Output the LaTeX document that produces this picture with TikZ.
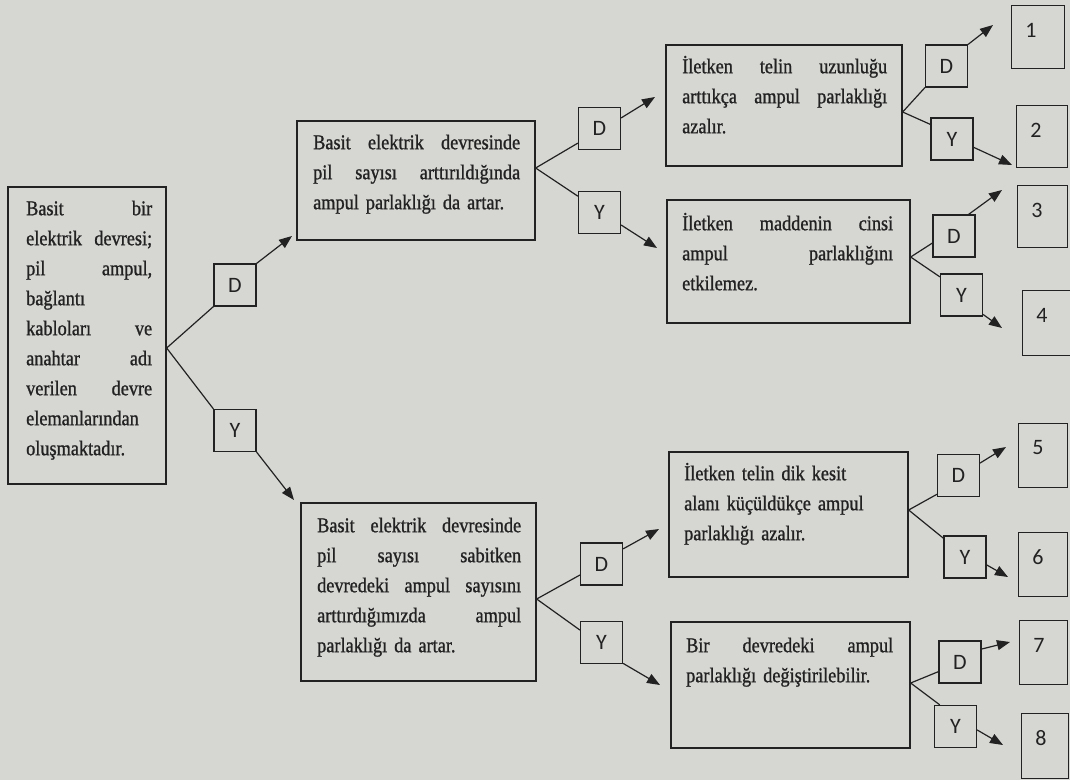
\documentclass[tikz,border=0pt]{standalone}
\usepackage{fontspec}
\setmainfont{Liberation Serif}[FakeStretch=0.87, FakeBold=1.0]
\newfontfamily\labelfont{Carlito}
\usetikzlibrary{arrows.meta}

\definecolor{paper}{RGB}{214,214,211}
\definecolor{ink}{RGB}{34,34,34}

% one justified line of a statement box, as wide as the text block
% (stretchable spaces restored inside the line)
\newcommand{\jl}[1]{\leavevmode\hbox to \boxw{\spaceskip=0pt\xspaceskip=0pt #1}}

\tikzset{
  box/.style={draw=ink, line width=1.3pt, inner sep=0pt},
  dybox/.style={draw=ink, line width=1.2pt, minimum width=42pt, minimum height=42pt,
    inner sep=0pt, text=ink, font=\labelfont\fontsize{22}{24}\selectfont},
  numbox/.style={draw=ink, line width=1.2pt, inner sep=0pt, minimum width=50pt,
    minimum height=63pt, anchor=north west},
  numtxt/.style={inner sep=0pt, text=ink, font=\labelfont\fontsize{22}{24}\selectfont},
  body/.style={anchor=north west, inner sep=0pt, align=left, text=ink, text width=#1,
    font=\fontsize{21}{30}\selectfont,
    execute at begin node={\parindent=0pt\def\boxw{#1}}},
  link/.style={draw=ink, line width=1.2pt},
  arr/.style={link, -{Triangle[length=13pt,width=10pt]}},
}

\begin{document}
\begin{tikzpicture}[x=1pt, y=-1pt]
\clip (0,0) rectangle (1070,780);
\fill[paper] (0,0) rectangle (1070,780);

% ---------- statement boxes ----------
\node[box, minimum width=158pt, minimum height=297pt] (L) at (87,335.5) {};
\node[box, minimum width=238pt, minimum height=119pt] (M1) at (416,180.5) {};
\node[box, minimum width=235pt, minimum height=178pt] (M2) at (418.5,592) {};
\node[box, minimum width=236pt, minimum height=121pt] (R1) at (784,105.5) {};
\node[box, minimum width=243pt, minimum height=123pt] (R2) at (788.5,261.5) {};
\node[box, minimum width=239pt, minimum height=125pt] (R3) at (788.5,514.5) {};
\node[box, minimum width=239pt, minimum height=126pt] (R4) at (790.5,685) {};

% ---------- statement texts ----------
\node[body=126pt] (Ltext) at (26,194) {%
\jl{\strut Basit bir}\\
\jl{elektrik devresi;}\\
\jl{pil ampul,}\\
bağlantı\\
\jl{kabloları ve}\\
\jl{anahtar adı}\\
\jl{verilen devre}\\
elemanlarından\\
oluşmaktadır.};

\node[body=207pt] (M1text) at (313,128) {%
\jl{\strut Basit elektrik devresinde}\\
\jl{pil sayısı arttırıldığında}\\
ampul parlaklığı da artar.};

\node[body=204pt] (M2text) at (317,511) {%
\jl{\strut Basit elektrik devresinde}\\
\jl{pil sayısı sabitken}\\
\jl{devredeki ampul sayısını}\\
\jl{arttırdığımızda ampul}\\
parlaklığı da artar.};

\node[body=205pt] (R1text) at (682,52) {%
\jl{\strut İletken telin uzunluğu}\\
\jl{arttıkça ampul parlaklığı}\\
azalır.};

\node[body=211pt] (R2text) at (682,209) {%
\jl{\strut İletken maddenin cinsi}\\
\jl{ampul parlaklığını}\\
etkilemez.};

\node[body=205pt] (R3text) at (684,459) {%
\strut İletken telin dik kesit\\
alanı küçüldükçe ampul\\
parlaklığı azalır.};

\node[body=207pt] (R4text) at (686,631) {%
\jl{\strut Bir devredeki ampul}\\
parlaklığı değiştirilebilir.};

% ---------- D / Y answer boxes ----------
\node[dybox] (dL) at (235,285) {D};
\node[dybox] (yL) at (235,430.5) {Y};
\node[dybox] (dM1) at (599.5,128.5) {D};
\node[dybox] (yM1) at (599.5,212.5) {Y};
\node[dybox] (dM2) at (601.5,564) {D};
\node[dybox] (yM2) at (601.5,642.5) {Y};
\node[dybox] (dR1) at (946.5,66) {D};
\node[dybox] (yR1) at (952,139) {Y};
\node[dybox] (dR2) at (954,236) {D};
\node[dybox] (yR2) at (961.5,295) {Y};
\node[dybox] (dR3) at (958.5,475.5) {D};
\node[dybox] (yR3) at (965,557) {Y};
\node[dybox] (dR4) at (960,662) {D};
\node[dybox] (yR4) at (955.5,726.5) {Y};

% ---------- numbered exit boxes ----------
\node[numbox, minimum width=53pt] (n1) at (1011,5) {};
\node[numbox, minimum width=51pt, minimum height=62pt] (n2) at (1016,105) {};
\node[numbox, minimum width=50pt, minimum height=62pt] (n3) at (1017,185) {};
\node[numbox, minimum width=48pt, minimum height=65pt] (n4) at (1022,290) {};
\node[numbox, minimum width=49pt, minimum height=64pt] (n5) at (1018,423) {};
\node[numbox, minimum width=49pt, minimum height=64pt] (n6) at (1018,532) {};
\node[numbox, minimum width=48pt, minimum height=64pt] (n7) at (1019,620) {};
\node[numbox, minimum width=47pt, minimum height=65pt] (n8) at (1021,713) {};
\foreach \k in {1,...,8}{
  \node[numtxt] (t\k) at ([xshift=20pt,yshift=-25pt]n\k.north west) {\k};
}

% ---------- branch points ----------
\coordinate (bL) at ([yshift=-12.5pt]L.east);
\coordinate (bM1) at ([yshift=12.5pt]M1.east);
\coordinate (bM2) at ([yshift=-7pt]M2.east);
\coordinate (bR1) at ([yshift=-6.5pt]R1.east);
\coordinate (bR2) at ([yshift=4.5pt]R2.east);
\coordinate (bR3) at ([yshift=4.5pt]R3.east);
\coordinate (bR4) at ([yshift=2pt]R4.east);

% ---------- arrow ends ----------
\coordinate (hdL) at (292,236);
\coordinate (hyL) at (294,500);
\coordinate (hdM1) at (655,97);
\coordinate (hyM1) at (657,248);
\coordinate (hdM2) at (659,529);
\coordinate (hyM2) at (660,685);
\coordinate (hdR1) at (993,25);
\coordinate (hyR1) at (1012,165);
\coordinate (hdR2) at (1002,190);
\coordinate (hyR2) at (1002,328);
\coordinate (hdR3) at (1006,447);
\coordinate (hyR3) at (1008,577);
\coordinate (hdR4) at (1010,642);
\coordinate (hyR4) at (1003,745);

% ---------- connectors ----------
\draw[link] (bL) -- (dL.225);
\draw[link] (bL) -- (yL.135);
\draw[arr] (dL.45) -- (hdL);
\draw[arr] (yL.-45) -- (hyL);

\draw[link] (bM1) -- (dM1.214);
\draw[link] (bM1) -- (yM1.143);
\draw[arr] (dM1.26) -- (hdM1);
\draw[arr] (yM1.-30) -- (hyM1);

\draw[link] (bM2) -- (dM2.207);
\draw[link] (bM2) -- (yM2.150);
\draw[arr] (dM2.35) -- (hdM2);
\draw[arr] (yM2.-44) -- (hyM2);

\draw[link] (bR1) -- (dR1.225);
\draw[link] (bR1) -- (yR1.146);
\draw[arr] (dR1.45) -- (hdR1);
\draw[arr] (yR1.-21) -- (hyR1);

\draw[link] (bR2) -- (dR2.198);
\draw[link] (bR2) -- (yR2.140);
\draw[arr] (dR2.56) -- (hdR2);
\draw[arr] (yR2.-42) -- (hyR2);

\draw[link] (bR3) -- (dR3.221);
\draw[link] (bR3) -- (yR3.139);
\draw[arr] (dR3.30) -- (hdR3);
\draw[arr] (yR3.-20) -- (hyR3);

\draw[link] (bR4) -- (dR4.204);
\draw[link] (bR4) -- (yR4.126);
\draw[arr] (dR4.31) -- (hdR4);
\draw[arr] (yR4.-9) -- (hyR4);
\end{tikzpicture}
\end{document}
